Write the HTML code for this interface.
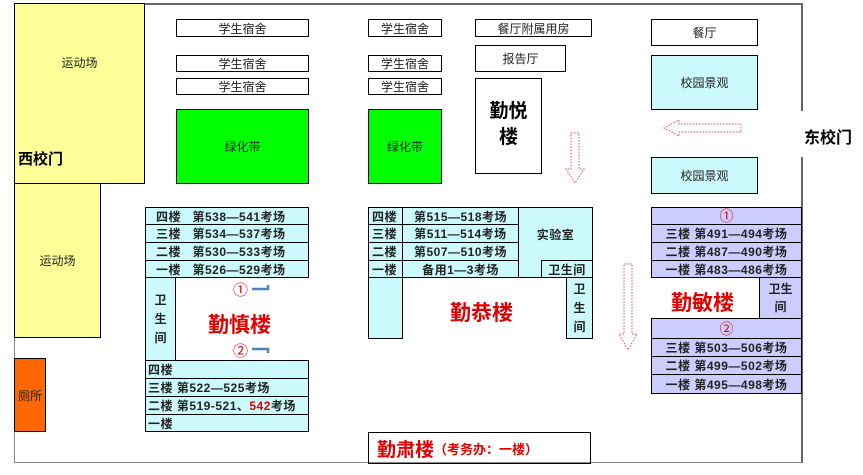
<!DOCTYPE html>
<html><head><meta charset="utf-8"><style>
body{margin:0;width:863px;height:475px;background:#fff;position:relative;overflow:hidden;font-family:"Liberation Sans","Noto Sans CJK SC",sans-serif;}
.b{position:absolute;border:1px solid #000;box-sizing:border-box;display:flex;align-items:center;justify-content:center;font-size:12px;color:#222;white-space:nowrap;overflow:hidden}
.c{background:#ccf9fb}
.p{background:#ccccff}
.r{font-weight:bold;font-size:12px;justify-content:flex-start;letter-spacing:0.5px}
.t{position:absolute;white-space:nowrap}
.big{color:#e00000;font-size:21px;font-weight:bold}
.v{flex-direction:column;line-height:19px;font-weight:bold}
</style></head><body>
<div style="position:absolute;left:145px;top:3px;width:658px;height:0;border-top:2px solid #666"></div>
<div style="position:absolute;left:801px;top:3px;height:108px;border-left:2px solid #666"></div>
<div style="position:absolute;left:801px;top:157px;height:306px;border-left:2px solid #666"></div>
<div style="position:absolute;left:14px;top:462px;width:788px;border-top:1px solid #888"></div>
<div style="position:absolute;left:14px;top:338px;height:124px;border-left:1px solid #888"></div>

<div class="b" style="left:14px;top:3px;width:131px;height:181px;background:#ffff99;align-items:flex-start;padding-top:50px">运动场</div>
<div class="t" style="left:18px;top:148px;font-weight:bold;font-size:15px">西校门</div>
<div class="b" style="left:14px;top:183px;width:87px;height:155px;background:#ffff99">运动场</div>
<div class="b" style="left:14px;top:358px;width:32px;height:74px;background:#ff6600">厕所</div>

<div class="b" style="left:176px;top:19px;width:133px;height:18px">学生宿舍</div>
<div class="b" style="left:176px;top:55px;width:133px;height:17px">学生宿舍</div>
<div class="b" style="left:176px;top:78px;width:133px;height:17px">学生宿舍</div>
<div class="b" style="left:176px;top:109px;width:133px;height:75px;background:#00ff00">绿化带</div>
<div class="b" style="left:368px;top:19px;width:74px;height:18px">学生宿舍</div>
<div class="b" style="left:368px;top:55px;width:74px;height:17px">学生宿舍</div>
<div class="b" style="left:368px;top:78px;width:74px;height:17px">学生宿舍</div>
<div class="b" style="left:368px;top:109px;width:74px;height:75px;background:#00ff00">绿化带</div>
<div class="b" style="left:475px;top:19px;width:117px;height:18px">餐厅附属用房</div>
<div class="b" style="left:475px;top:45px;width:91px;height:27px">报告厅</div>
<div class="b" style="left:475px;top:78px;width:67px;height:96px;font-size:19px;font-weight:bold;flex-direction:column;line-height:26px;justify-content:flex-start;padding-top:20px;color:#000"><span>勤悦</span><span>楼</span></div>
<div class="b" style="left:651px;top:19px;width:107px;height:27px">餐厅</div>
<div class="b c" style="left:651px;top:55px;width:107px;height:55px">校园景观</div>
<div class="b c" style="left:651px;top:157px;width:107px;height:37px">校园景观</div>
<div class="t" style="left:804px;top:124px;font-weight:bold;font-size:16px">东校门</div>

<svg style="position:absolute;left:0;top:0" width="863" height="475">
<g fill="none" stroke="#e05060" stroke-dasharray="1.5,1.5" stroke-width="1">
<path d="M571,133 h8 v36 h5 l-9,14 l-9,-14 h5 z"/>
<path d="M624,264 h8 v70 h5 l-9,16 l-9,-16 h5 z"/>
<path d="M741,124 v8 h-62 v4 l-15,-8 l15,-8 v4 h62"/>
</g>
<g fill="none" stroke="#4f81bd" stroke-width="2.5">
<path d="M252,289 h16 v-4"/><path d="M252,349 h16 v4"/>
</g>
</svg>

<!-- 勤慎楼 -->
<div class="b c r" style="left:145px;top:207px;width:164px;height:18px;padding-left:10px">四楼 &nbsp;&nbsp;第538—541考场</div>
<div class="b c r" style="left:145px;top:224px;width:164px;height:19px;padding-left:10px">三楼 &nbsp;&nbsp;第534—537考场</div>
<div class="b c r" style="left:145px;top:242px;width:164px;height:19px;padding-left:10px">二楼 &nbsp;&nbsp;第530—533考场</div>
<div class="b c r" style="left:145px;top:260px;width:164px;height:18px;padding-left:10px">一楼 &nbsp;&nbsp;第526—529考场</div>
<div class="b c v" style="left:145px;top:277px;width:31px;height:84px"><span>卫</span><span>生</span><span>间</span></div>
<div class="t" style="left:233px;top:279px;color:#e00000;font-size:15px">①</div>
<div class="t" style="left:233px;top:340px;color:#e00000;font-size:15px">②</div>
<div class="t big" style="left:208px;top:309px">勤慎楼</div>
<div class="b c r" style="left:145px;top:360px;width:164px;height:19px;padding-left:2px">四楼</div>
<div class="b c r" style="left:145px;top:378px;width:164px;height:19px;padding-left:2px">三楼 第522—525考场</div>
<div class="b c r" style="left:145px;top:396px;width:164px;height:19px;padding-left:2px">二楼 第519-521、<span style="color:#e00000">542</span>考场</div>
<div class="b c r" style="left:145px;top:414px;width:164px;height:18px;padding-left:2px">一楼</div>

<!-- 勤恭楼 -->
<div class="b c r" style="left:368px;top:207px;width:35px;height:18px;padding-left:3px">四楼</div>
<div class="b c r" style="left:368px;top:224px;width:35px;height:19px;padding-left:3px">三楼</div>
<div class="b c r" style="left:368px;top:242px;width:35px;height:19px;padding-left:3px">二楼</div>
<div class="b c r" style="left:368px;top:260px;width:35px;height:18px;padding-left:3px">一楼</div>
<div class="b c r" style="left:402px;top:207px;width:117px;height:18px;justify-content:center">第515—518考场</div>
<div class="b c r" style="left:402px;top:224px;width:117px;height:19px;justify-content:center">第511—514考场</div>
<div class="b c r" style="left:402px;top:242px;width:117px;height:19px;justify-content:center">第507—510考场</div>
<div class="b c r" style="left:402px;top:260px;width:117px;height:18px;justify-content:center">备用1—3考场</div>
<div class="b c r" style="left:518px;top:207px;width:75px;height:71px;justify-content:center;padding-bottom:16px">实验室</div>
<div class="b c r" style="left:541px;top:260px;width:52px;height:18px;justify-content:center">卫生间</div>
<div class="b c" style="left:368px;top:277px;width:35px;height:62px"></div>
<div class="b c v" style="left:566px;top:277px;width:27px;height:62px"><span>卫</span><span>生</span><span>间</span></div>
<div class="t big" style="left:450px;top:297px">勤恭楼</div>

<!-- 勤敏楼 -->
<div class="b p" style="left:651px;top:207px;width:151px;height:18px;color:#e00000;font-size:14px">①</div>
<div class="b p r" style="left:651px;top:224px;width:151px;height:19px;justify-content:center">三楼 第491—494考场</div>
<div class="b p r" style="left:651px;top:242px;width:151px;height:19px;justify-content:center">二楼 第487—490考场</div>
<div class="b p r" style="left:651px;top:260px;width:151px;height:18px;justify-content:center">一楼 第483—486考场</div>
<div class="b p v" style="left:759px;top:277px;width:43px;height:42px;line-height:18px"><span>卫生</span><span>间</span></div>
<div class="t big" style="left:671px;top:287px">勤敏楼</div>
<div class="b p" style="left:651px;top:318px;width:151px;height:21px;color:#e00000;font-size:14px">②</div>
<div class="b p r" style="left:651px;top:338px;width:151px;height:19px;justify-content:center">三楼 第503—506考场</div>
<div class="b p r" style="left:651px;top:356px;width:151px;height:19px;justify-content:center">二楼 第499—502考场</div>
<div class="b p r" style="left:651px;top:374px;width:151px;height:20px;justify-content:center">一楼 第495—498考场</div>

<div class="b" style="left:368px;top:432px;width:223px;height:32px;justify-content:flex-start;padding-left:8px"><span style="color:#e00000;font-size:19px;font-weight:bold">勤肃楼</span><span style="color:#e00000;font-size:13px;font-weight:bold">（考务办：一楼）</span></div>
</body></html>
